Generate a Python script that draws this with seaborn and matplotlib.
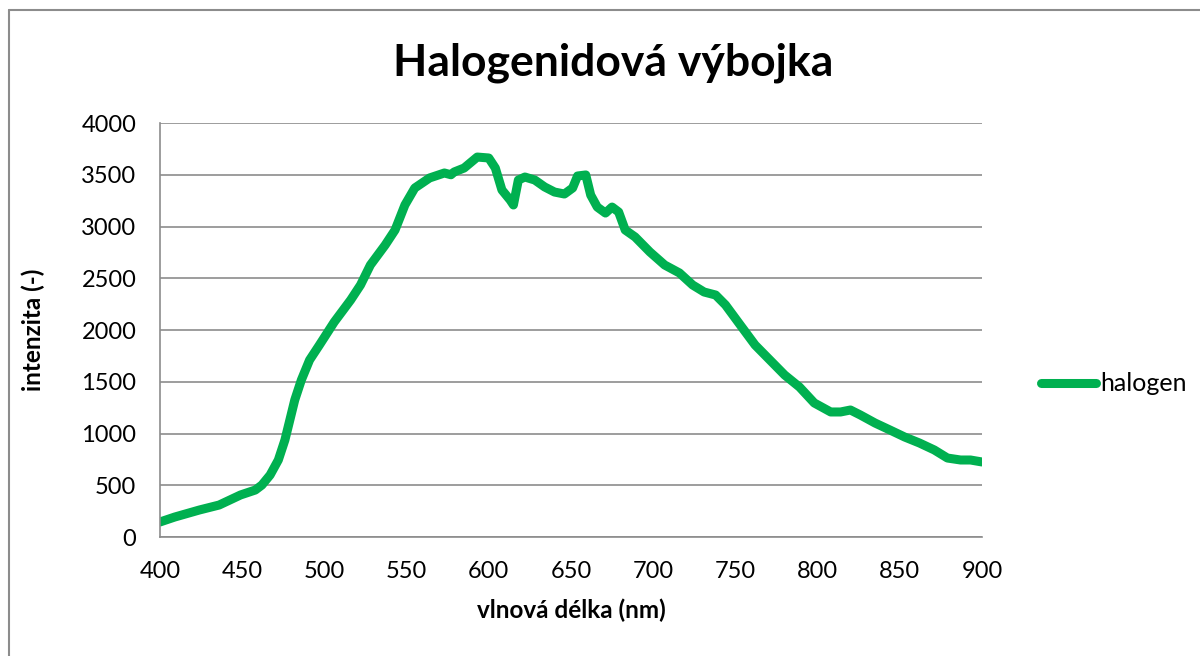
import numpy as np
import pandas as pd
import matplotlib
matplotlib.use("Agg")
import matplotlib.pyplot as plt
import seaborn as sns
from matplotlib.lines import Line2D

# data
wavelength = [400, 409, 424, 436, 449, 458, 462, 467, 472, 476, 479, 482, 486, 491,
              497, 506, 516, 522, 528, 537, 543, 549, 555, 564, 573, 577, 579, 585,
              593, 600, 604, 608, 613, 615, 618, 622, 628, 634, 640, 646, 651, 654,
              659, 662, 666, 671, 675, 679, 683, 689, 698, 707, 716, 724, 731, 738,
              744, 753, 762, 771, 780, 789, 798, 808, 814, 820, 826, 835, 844, 853,
              862, 871, 879, 887, 893, 900]
intensity = [145, 193, 261, 309, 406, 454, 502, 599, 744, 937, 1130, 1324, 1517, 1710,
             1855, 2077, 2290, 2435, 2628, 2821, 2966, 3208, 3372, 3469, 3517, 3500, 3527, 3565,
             3671, 3662, 3565, 3353, 3256, 3208, 3449, 3478, 3449, 3382, 3333, 3314, 3372, 3488,
             3498, 3304, 3188, 3130, 3188, 3140, 2966, 2899, 2754, 2628, 2551, 2435, 2367, 2338,
             2242, 2048, 1855, 1710, 1565, 1449, 1295, 1208, 1208, 1227, 1179, 1101, 1034, 966,
             908, 841, 763, 744, 744, 725]

df = pd.DataFrame({"wl": wavelength, "halogen": intensity})

sns.set_style("white")
plt.rcParams["font.family"] = ["Lato", "DejaVu Sans"]
plt.rcParams["text.color"] = "black"
plt.rcParams["axes.labelcolor"] = "black"

fig = plt.figure(figsize=(12, 6.56), dpi=100)
ax = fig.add_axes([0.1333, 0.1814, 0.685, 0.6311])

sns.lineplot(data=df, x="wl", y="halogen", color="#00B050", linewidth=6.5,
             label="halogen", ax=ax, solid_capstyle="round")

ax.set_xlim(400, 900)
ax.set_ylim(0, 4000)
ax.set_xticks(range(400, 901, 50))
ax.set_yticks(range(0, 4001, 500))
ax.tick_params(labelsize=17, length=0, colors="black")
ax.tick_params(axis="x", pad=17)
ax.tick_params(axis="y", pad=17)
ax.yaxis.grid(True, color="#8c8c8c", linewidth=1.2)
ax.xaxis.grid(False)
for s in ["top", "right"]:
    ax.spines[s].set_visible(False)
for s in ["left", "bottom"]:
    ax.spines[s].set_color("#8c8c8c")
    ax.spines[s].set_linewidth(1.2)

ax.set_xlabel("vlnová délka (nm)", fontsize=17.5, fontweight="bold", labelpad=12)
ax.set_ylabel("intenzita (-)", fontsize=17.5, fontweight="bold", labelpad=26)
fig.text(0.511, 0.905, "Halogenidová výbojka", ha="center", va="center",
         fontsize=32, fontweight="bold", color="black")

leg = ax.legend(loc="center left", bbox_to_anchor=(1.045, 0.37), frameon=False,
                fontsize=18, handlelength=2.2, handletextpad=0.15)
for t in leg.get_texts():
    t.set_color("black")

# chart border
fig.add_artist(Line2D([9 / 1200, 9 / 1200], [0, 1 - 10 / 656], color="#8c8c8c", lw=1.5))
fig.add_artist(Line2D([9 / 1200, 1], [1 - 10 / 656, 1 - 10 / 656], color="#8c8c8c", lw=1.5))

fig.savefig("out.png", dpi=100)
